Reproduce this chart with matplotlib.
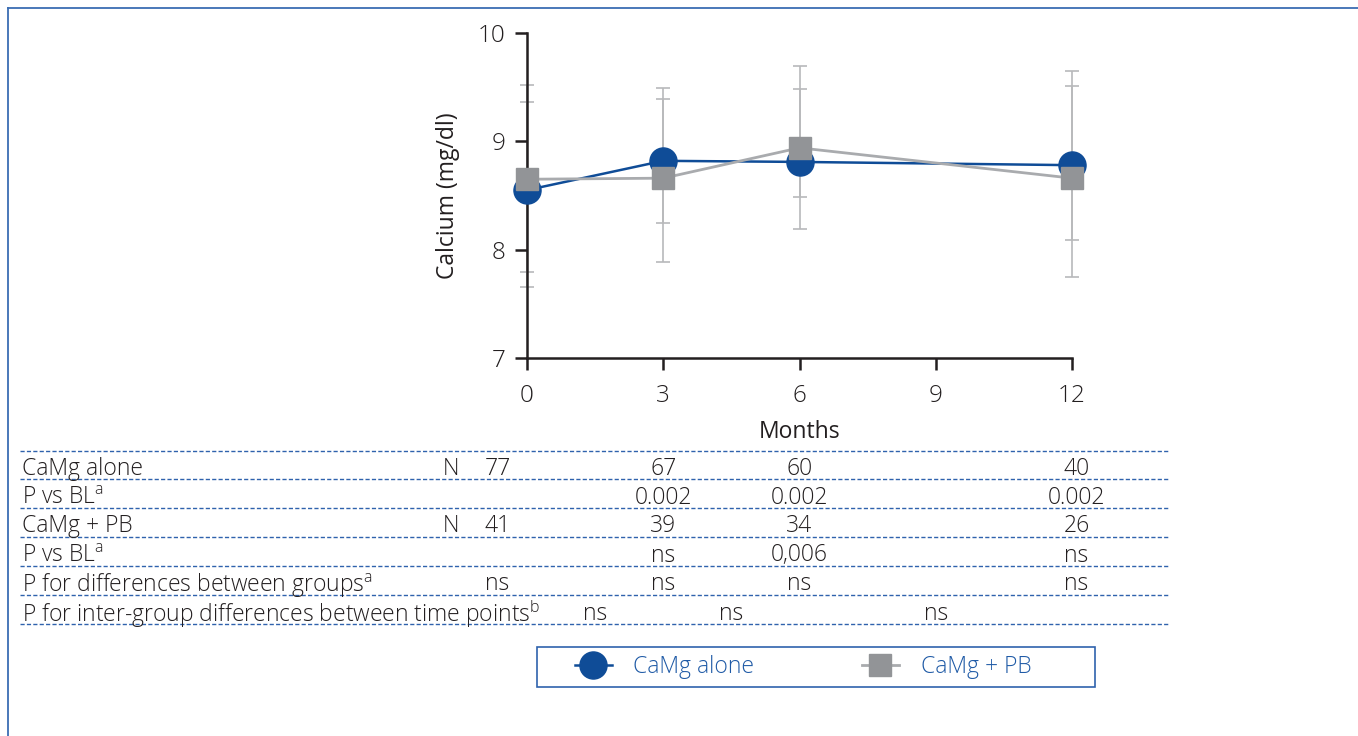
"""Calcium over 12 months: CaMg alone vs CaMg + PB, with summary table below."""
import matplotlib

matplotlib.use("Agg")
import matplotlib.pyplot as plt
import matplotlib.transforms as mtransforms
from matplotlib.lines import Line2D
from matplotlib.patches import Rectangle

plt.rcParams["font.family"] = ["Open Sans", "DejaVu Sans"]
plt.rcParams["font.weight"] = "light"
plt.rcParams["mathtext.fontset"] = "custom"
plt.rcParams["mathtext.rm"] = "Open Sans:light"

# ── data ────────────────────────────────────────────────────────────────────
months = [0, 3, 6, 12]
alone_mean = [8.55, 8.82, 8.81, 8.78]
alone_lo = [7.66, 8.25, 8.19, 8.09]
alone_hi = [9.36, 9.39, 9.48, 9.51]
pb_mean = [8.65, 8.66, 8.94, 8.66]
pb_lo = [7.79, 7.89, 8.49, 7.75]
pb_hi = [9.52, 9.49, 9.70, 9.65]

row_labels = ["CaMg alone", r"P vs BL$^{\mathrm{a}}$", "CaMg + PB",
              r"P vs BL$^{\mathrm{a}}$",
              r"P for differences between groups$^{\mathrm{a}}$",
              r"P for inter-group differences between time points$^{\mathrm{b}}$"]
col_pos = [-0.65, 3, 6, 12.1]
n_alone = ["77", "67", "60", "40"]
p_alone = ["", "0.002", "0.002", "0.002"]
n_pb = ["41", "39", "34", "26"]
p_pb = ["", "ns", "0,006", "ns"]
p_groups = ["ns", "ns", "ns", "ns"]
inter_pos = [1.5, 4.5, 9]
p_inter = ["ns", "ns", "ns"]

BLUE = "#0f4c97"
GREY = "#929497"
GREY_L = "#a9abae"
ERR = "#b8b9bb"
TXT = "#231f20"
FRAME = "#2f62ad"
FS = 16.5

W, H = 1358, 736
fig = plt.figure(figsize=(W / 100, H / 100), dpi=100)
ax = fig.add_axes([527 / W, 1 - 358 / H, 545 / W, 325 / H])

# error bars behind everything
for mean, lo, hi in ((alone_mean, alone_lo, alone_hi), (pb_mean, pb_lo, pb_hi)):
    yerr = [[m - l for m, l in zip(mean, lo)], [h - m for m, h in zip(mean, hi)]]
    ax.errorbar(months, mean, yerr=yerr, fmt="none", ecolor=ERR, elinewidth=1.2,
                capsize=4.8, capthick=1.2, zorder=1, clip_on=False)

ax.plot(months, alone_mean, color=BLUE, lw=1.8, marker="o", ms=19.5,
        mfc=BLUE, mec=BLUE, zorder=3, clip_on=False, label="CaMg alone")
ax.plot(months, pb_mean, color=GREY_L, lw=2.0, marker="s", ms=16.5,
        mfc=GREY, mec=GREY, zorder=4, clip_on=False, label="CaMg + PB")

ax.set_xlim(0, 12)
ax.set_ylim(7, 10)
ax.set_xticks([0, 3, 6, 9, 12])
ax.set_yticks([7, 8, 9, 10])
for s in ("top", "right"):
    ax.spines[s].set_visible(False)
for s in ("left", "bottom"):
    ax.spines[s].set_color(TXT)
    ax.spines[s].set_linewidth(1.8)
ax.tick_params(direction="out", length=8.5, width=1.8, color=TXT,
               labelsize=17.5, labelcolor=TXT)
ax.tick_params(axis="x", pad=10)
ax.tick_params(axis="y", pad=7)
ax.set_ylabel("Calcium (mg/dl)", fontsize=FS, color=TXT, labelpad=13)
ax.set_xlabel("Months", fontsize=FS, color=TXT, labelpad=9)

# ── table under the plot ────────────────────────────────────────────────────
tr = mtransforms.blended_transform_factory(ax.transData, fig.transFigure)
line_y = [451, 479, 508, 537, 566, 595, 624]
for y in line_y:
    fig.add_artist(Line2D([20 / W, 1168 / W], [1 - y / H] * 2, color=FRAME,
                          lw=1.0, ls=(0, (3, 1.6))))

row_y = [(a + b) / 2 + 1 for a, b in zip(line_y[:-1], line_y[1:])]
for lab, y in zip(row_labels, row_y):
    fig.text(22 / W, 1 - y / H, lab, fontsize=FS, color=TXT, va="center_baseline",
             ha="left")
for y in (row_y[0], row_y[2]):
    fig.text(451 / W, 1 - y / H, "N", fontsize=FS, color=TXT,
             va="center_baseline", ha="center")

for cells, y in zip((n_alone, p_alone, n_pb, p_pb, p_groups), row_y[:5]):
    for x, s in zip(col_pos, cells):
        ax.text(x, 1 - y / H, s, transform=tr, fontsize=FS, color=TXT,
                va="center_baseline", ha="center")
for x, s in zip(inter_pos, p_inter):
    ax.text(x, 1 - row_y[5] / H, s, transform=tr, fontsize=FS, color=TXT,
            va="center_baseline", ha="center")

# ── legend (own box drawn separately) ───────────────────────────────────────
leg = fig.legend(loc="center left", bbox_to_anchor=(575 / W, 1 - 667 / H),
                 ncol=2, fontsize=FS, frameon=False, handlelength=1.6,
                 handletextpad=0.95, columnspacing=4.7, borderpad=0,
                 borderaxespad=0)
for t in leg.get_texts():
    t.set_color("#1f5aa6")
fig.add_artist(Rectangle((537 / W, 1 - 687 / H), 558 / W, 40 / H,
                         transform=fig.transFigure, fill=False,
                         edgecolor=FRAME, lw=1.2))

# outer frame (top and left only)
fig.add_artist(Line2D([8 / W, 1], [1 - 8 / H] * 2, color="#3b6db3", lw=1.3))
fig.add_artist(Line2D([8 / W] * 2, [0, 1 - 8 / H], color="#3b6db3", lw=1.3))

fig.savefig("out.png", dpi=100)
